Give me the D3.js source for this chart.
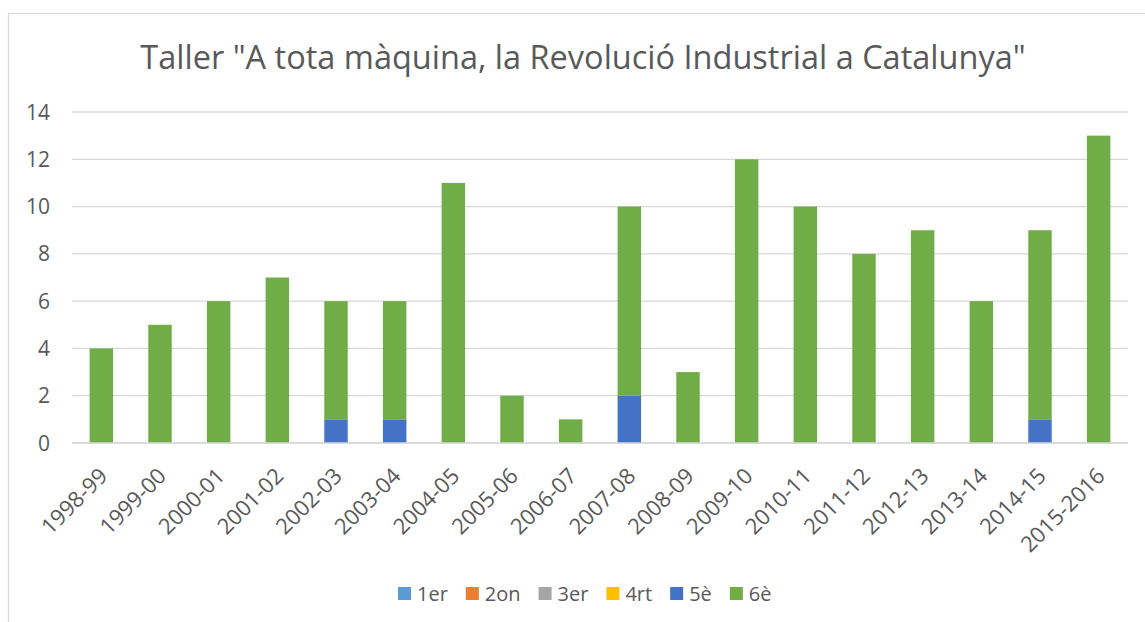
<!DOCTYPE html>
<html>
<head>
<meta charset="utf-8">
<script src="https://cdn.jsdelivr.net/npm/d3@7"></script>
<style>
  body { margin: 0; background: #fff; }
  text { font-family: "Open Sans", "Liberation Sans", sans-serif; fill: #595959; }
</style>
</head>
<body>
<div id="chart"></div>
<script>
const courses = ["1998-99", "1999-00", "2000-01", "2001-02", "2002-03", "2003-04", "2004-05", "2005-06", "2006-07",
  "2007-08", "2008-09", "2009-10", "2010-11", "2011-12", "2012-13", "2013-14", "2014-15", "2015-2016"];
const series = ["1er", "2on", "3er", "4rt", "5è", "6è"];
const colors = ["#5B9BD5", "#ED7D31", "#A5A5A5", "#FFC000", "#4472C4", "#70AD47"];
const v1er = [0, 0, 0, 0, 0, 0, 0, 0, 0, 0, 0, 0, 0, 0, 0, 0, 0, 0];
const v2on = [0, 0, 0, 0, 0, 0, 0, 0, 0, 0, 0, 0, 0, 0, 0, 0, 0, 0];
const v3er = [0, 0, 0, 0, 0, 0, 0, 0, 0, 0, 0, 0, 0, 0, 0, 0, 0, 0];
const v4rt = [0, 0, 0, 0, 0, 0, 0, 0, 0, 0, 0, 0, 0, 0, 0, 0, 0, 0];
const v5e = [0, 0, 0, 0, 1, 1, 0, 0, 0, 2, 0, 0, 0, 0, 0, 0, 1, 0];
const v6e = [4, 5, 6, 7, 5, 5, 11, 2, 1, 8, 3, 12, 10, 8, 9, 6, 8, 13];
const yTicks = [0, 2, 4, 6, 8, 10, 12, 14];
const title = 'Taller "A tota màquina, la Revolució Industrial a Catalunya"';

const W = 1145, H = 622;
const margin = {top: 112, right: 17, bottom: 179, left: 72};
const width = W - margin.left - margin.right;
const height = H - margin.top - margin.bottom;

const values = [v1er, v2on, v3er, v4rt, v5e, v6e];
const table = courses.map((c, i) => {
  const row = {course: c};
  series.forEach((s, j) => row[s] = values[j][i]);
  return row;
});

const svg = d3.select("#chart").append("svg").attr("width", W).attr("height", H);

// chart frame
svg.append("rect")
  .attr("x", 8.5).attr("y", 13.5).attr("width", W + 20).attr("height", H + 20)
  .attr("fill", "none").attr("stroke", "#d9d9d9").attr("stroke-width", 1.3);

svg.append("text")
  .attr("x", 583).attr("y", 69)
  .attr("text-anchor", "middle")
  .style("font-size", "32.5px")
  .text(title);

const g = svg.append("g").attr("transform", `translate(${margin.left},${margin.top})`);

const x = d3.scaleBand().domain(courses).range([0, width]);
const y = d3.scaleLinear().domain([0, 14]).range([height, 0]);

g.selectAll(".grid")
  .data(yTicks)
  .enter().append("line")
    .attr("class", "grid")
    .attr("x1", 0).attr("x2", width)
    .attr("y1", d => y(d)).attr("y2", d => y(d))
    .attr("stroke", "#d9d9d9").attr("stroke-width", 1.3);

g.selectAll(".ylab")
  .data(yTicks)
  .enter().append("text")
    .attr("class", "ylab")
    .attr("x", -22).attr("y", d => y(d))
    .attr("dy", "0.36em")
    .attr("text-anchor", "end")
    .style("font-size", "21px")
    .text(d => d);

const stacked = d3.stack().keys(series)(table);
const barW = x.step() * 0.4;

g.selectAll(".layer")
  .data(stacked)
  .enter().append("g")
    .attr("class", "layer")
    .attr("fill", (d, i) => colors[i])
  .selectAll("rect")
  .data(d => d.filter(p => p[1] > p[0]))
  .enter().append("rect")
    .attr("x", d => x(d.data.course) + (x.bandwidth() - barW) / 2)
    .attr("width", barW)
    .attr("y", d => y(d[1]))
    .attr("height", d => y(d[0]) - y(d[1]));

// axis baseline
g.append("line")
  .attr("x1", 0).attr("x2", width)
  .attr("y1", height).attr("y2", height)
  .attr("stroke", "#d9d9d9").attr("stroke-width", 1.5);

g.selectAll(".xlab")
  .data(courses)
  .enter().append("text")
    .attr("class", "xlab")
    .attr("transform", d => `translate(${x(d) + x.bandwidth() / 2 + 2},${height + 29}) rotate(-45)`)
    .attr("text-anchor", "end")
    .attr("dy", "0.35em")
    .style("font-size", "22px")
    .text(d => d);

// legend
const legend = svg.append("g");
let lx = 398;
series.forEach((s, i) => {
  legend.append("rect")
    .attr("x", lx).attr("y", 587).attr("width", 13).attr("height", 13)
    .attr("fill", colors[i]);
  const t = legend.append("text")
    .attr("x", lx + 19).attr("y", 593.5)
    .attr("dy", "0.36em")
    .style("font-size", "20px")
    .text(s);
  lx += 19 + t.node().getComputedTextLength() + 18;
});
</script>
</body>
</html>
